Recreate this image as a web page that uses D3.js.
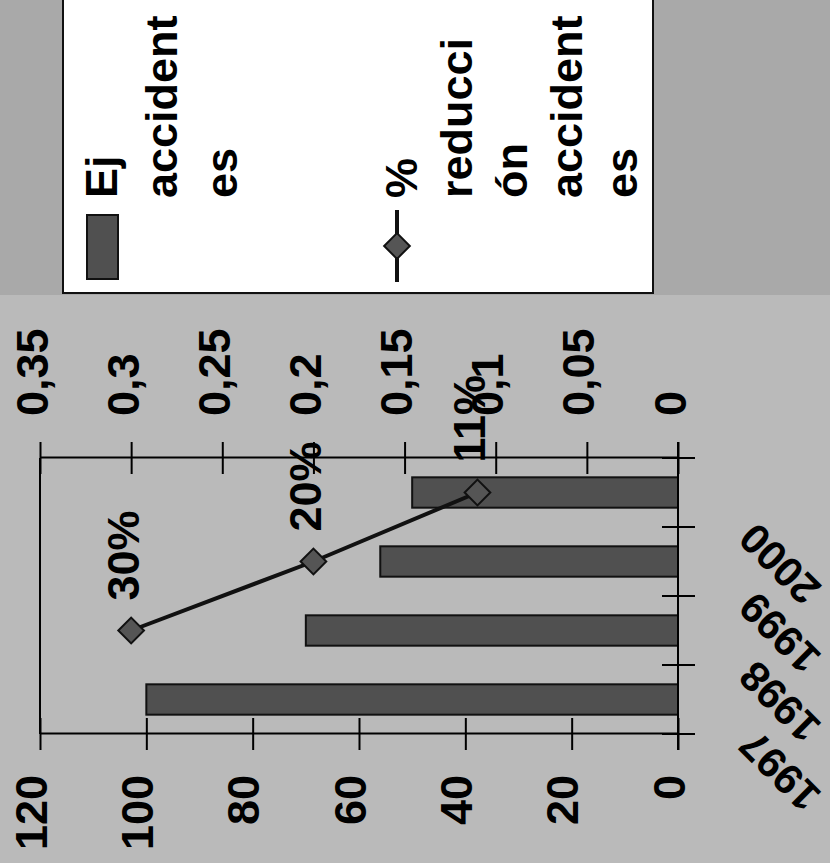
<!DOCTYPE html>
<html>
<head>
<meta charset="utf-8">
<script src="https://cdn.jsdelivr.net/npm/d3@7"></script>
<style>
  body { margin: 0; background: #b9b9b9; }
  svg { display: block; }
  text { font-family: "Liberation Sans", Arial, sans-serif; font-weight: bold; font-size: 45px; fill: #000; }
</style>
</head>
<body>
<svg id="chart"></svg>
<script>
// chart data
var years = ["1997", "1998", "1999", "2000"];
var accidents = [100, 70, 56, 50];
var reduction = [null, 0.30, 0.20, 0.11];
var reductionLabels = ["", "30%", "20%", "11%"];
var leftTicks = [0, 20, 40, 60, 80, 100, 120];
var rightTicks = [0, 0.05, 0.1, 0.15, 0.2, 0.25, 0.3, 0.35];
var legendBarText = ["Ej", "accident", "es"];
var legendLineText = ["%", "reducci", "ón", "accident", "es"];

var width = 830;
var height = 863;

document.addEventListener("DOMContentLoaded", function () {
    draw();
});

function commaNum(d) {
    return String(d).replace(".", ",");
}

function draw() {
    var svg = d3.select("#chart")
        .attr("width", width)
        .attr("height", height);

    // scanned background, darker strip at the top
    svg.append("rect")
        .attr("width", width).attr("height", height)
        .attr("fill", "#bababa");
    svg.append("rect")
        .attr("width", width).attr("height", 295)
        .attr("fill", "#a9a9a9");

    // the whole chart is turned on its side, so build it flat and rotate it
    var g = svg.append("g")
        .attr("transform", "translate(0," + height + ") rotate(-90)");

    var x = d3.scaleBand()
        .domain(years)
        .range([129, 405])
        .paddingInner(0.56)
        .paddingOuter(0.28);

    var yLeft = d3.scaleLinear().domain([0, 120]).range([678, 40]);
    var yRight = d3.scaleLinear().domain([0, 0.35]).range([678, 40]);

    // top border of the plot area
    g.append("line")
        .attr("x1", x.range()[0]).attr("x2", x.range()[1])
        .attr("y1", yLeft(120)).attr("y2", yLeft(120))
        .attr("stroke", "#000").attr("stroke-width", 2);

    // bars
    g.selectAll(".bar")
        .data(years)
        .enter()
        .append("rect")
        .attr("class", "bar")
        .attr("x", function (d) { return x(d); })
        .attr("y", function (d, i) { return yLeft(accidents[i]); })
        .attr("width", x.bandwidth())
        .attr("height", function (d, i) { return yLeft(0) - yLeft(accidents[i]); })
        .attr("fill", "#505050")
        .attr("stroke", "#111")
        .attr("stroke-width", 2);

    // left axis
    var leftAxis = g.append("g")
        .attr("transform", "translate(" + x.range()[0] + ",0)")
        .call(d3.axisLeft(yLeft).tickValues(leftTicks).tickSize(16).tickSizeOuter(0).tickPadding(25));
    leftAxis.selectAll(".tick line").attr("x1", 16).attr("stroke-width", 2);
    leftAxis.select(".domain").attr("stroke-width", 2);
    leftAxis.selectAll("text").attr("dy", 6).style("font-size", "45px");

    // right axis
    var rightAxis = g.append("g")
        .attr("transform", "translate(" + x.range()[1] + ",0)")
        .call(d3.axisRight(yRight).tickValues(rightTicks).tickFormat(commaNum).tickSize(16).tickSizeOuter(0).tickPadding(26));
    rightAxis.selectAll(".tick line").attr("x1", -16).attr("stroke-width", 2);
    rightAxis.select(".domain").attr("stroke-width", 2);
    rightAxis.selectAll("text").attr("dy", 7).style("font-size", "45px");

    // category axis, ticks between the categories
    var gap = (x.step() - x.bandwidth()) / 2;
    var bounds = years.map(function (d) { return x(d) - gap; });
    bounds.push(x(years[years.length - 1]) + x.bandwidth() + gap);

    g.append("line")
        .attr("x1", x.range()[0] - 16).attr("x2", x.range()[1] + 16)
        .attr("y1", yLeft(0)).attr("y2", yLeft(0))
        .attr("stroke", "#000").attr("stroke-width", 2);
    g.selectAll(".cattick")
        .data(bounds)
        .enter()
        .append("line")
        .attr("x1", function (d) { return d; })
        .attr("x2", function (d) { return d; })
        .attr("y1", yLeft(0) - 16)
        .attr("y2", yLeft(0) + 17)
        .attr("stroke", "#000").attr("stroke-width", 2);

    g.selectAll(".catlabel")
        .data(years)
        .enter()
        .append("text")
        .attr("text-anchor", "end")
        .style("font-size", "42px")
        .attr("transform", function (d) {
            return "translate(" + (x(d) + x.bandwidth() / 2 - 28) + "," + (yLeft(0) + 79) + ") rotate(-45)";
        })
        .text(function (d) { return d; });

    // reduction line
    var pts = [];
    for (var i = 0; i < years.length; i++) {
        if (reduction[i] != null) {
            pts.push({ x: x(years[i]) + x.bandwidth() / 2, y: yRight(reduction[i]), label: reductionLabels[i] });
        }
    }
    g.append("path")
        .datum(pts)
        .attr("d", d3.line().x(function (d) { return d.x; }).y(function (d) { return d.y; }))
        .attr("fill", "none")
        .attr("stroke", "#111")
        .attr("stroke-width", 4);

    var diamond = d3.symbol().type(d3.symbolDiamond2).size(420);
    g.selectAll(".marker")
        .data(pts)
        .enter()
        .append("path")
        .attr("d", diamond)
        .attr("transform", function (d) { return "translate(" + d.x + "," + d.y + ")"; })
        .attr("fill", "#555")
        .attr("stroke", "#111")
        .attr("stroke-width", 2);

    g.selectAll(".ptlabel")
        .data(pts)
        .enter()
        .append("text")
        .attr("x", function (d) { return d.x + 30; })
        .attr("y", function (d) { return d.y + 8; })
        .text(function (d) { return d.label; });

    // legend, cut off by the edge of the scan
    var lg = g.append("g");
    lg.append("rect")
        .attr("x", 570).attr("y", 63)
        .attr("width", 400).attr("height", 590)
        .attr("fill", "#fff")
        .attr("stroke", "#111").attr("stroke-width", 2);

    lg.append("rect")
        .attr("x", 584).attr("y", 87)
        .attr("width", 64).attr("height", 31)
        .attr("fill", "#505050")
        .attr("stroke", "#111").attr("stroke-width", 2);

    lg.selectAll(".lt1")
        .data(legendBarText)
        .enter()
        .append("text")
        .attr("x", 665)
        .attr("y", function (d, i) { return 117 + i * 60; })
        .text(function (d) { return d; });

    lg.append("line")
        .attr("x1", 581).attr("x2", 653)
        .attr("y1", 397).attr("y2", 397)
        .attr("stroke", "#111").attr("stroke-width", 4);
    lg.append("path")
        .attr("d", diamond)
        .attr("transform", "translate(617,397)")
        .attr("fill", "#555")
        .attr("stroke", "#111")
        .attr("stroke-width", 2);

    lg.selectAll(".lt2")
        .data(legendLineText)
        .enter()
        .append("text")
        .attr("x", 665)
        .attr("y", function (d, i) { return 417 + i * 55; })
        .text(function (d) { return d; });
}
</script>
</body>
</html>
